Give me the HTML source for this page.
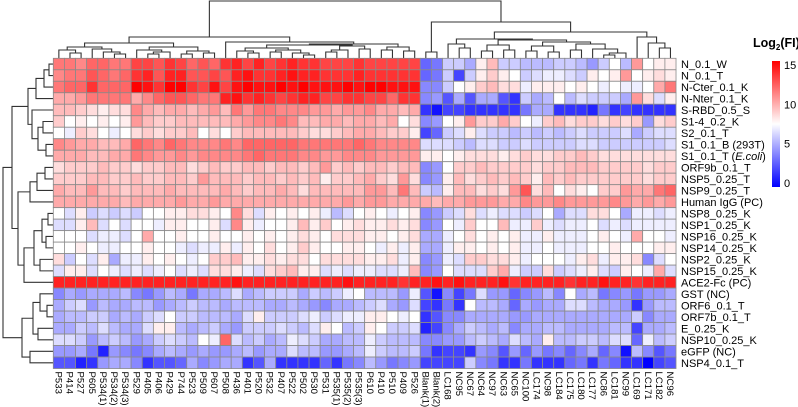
<!DOCTYPE html>
<html><head><meta charset="utf-8">
<style>
html,body{margin:0;padding:0;background:#fff;}
svg{display:block;font-family:"Liberation Sans",Arial,sans-serif;}
</style></head>
<body>
<svg id="chart" width="798" height="407" viewBox="0 0 798 407" xmlns="http://www.w3.org/2000/svg">
  <g id="dendro-col"></g>
  <g id="dendro-row"></g>
  <g id="cells"></g>
  <g id="rowlabels"></g>
  <g id="collabels"></g>
  <g id="legend">
    <defs>
      <linearGradient id="cbar" x1="0" y1="1" x2="0" y2="0">
        <stop offset="0" stop-color="#0000ff"/>
        <stop offset="0.5" stop-color="#ffffff"/>
        <stop offset="1" stop-color="#ff0000"/>
      </linearGradient>
    </defs>
    <text x="753" y="47" font-size="12.5" font-weight="bold">Log<tspan font-size="8" dy="3">2</tspan><tspan dy="-3">(FI)</tspan></text>
    <rect x="772" y="61" width="8" height="126" fill="url(#cbar)"/>
  </g>
</svg>
<script>
const columns = ["P533","P414","P527","P605","P534(1)","P534(2)","P534(3)","P529","P405","P406","P429","P744","P523","P509","P607","P508","P436","P401","P520","P532","P407","P522","P502","P530","P531","P535(1)","P535(2)","P535(3)","P610","P410","P510","P409","P526","Blank(1)","Blank(2)","LC168","NC95","NC67","NC64","NC97","NC63","NC65","NC100","LC174","NC98","LC184","LC175","LC180","LC177","NC86","LC181","NC99","LC169","LC171","LC182","NC96"];
const rowNames = ["N_0.1_W","N_0.1_T","N-Cter_0.1_K","N-Nter_0.1_K","S-RBD_0.5_S","S1-4_0.2_K","S2_0.1_T","S1_0.1_B (293T)","S1_0.1_T (E.coli)","ORF9b_0.1_T","NSP5_0.25_T","NSP9_0.25_T","Human IgG (PC)","NSP8_0.25_K","NSP1_0.25_K","NSP16_0.25_K","NSP14_0.25_K","NSP2_0.25_K","NSP15_0.25_K","ACE2-Fc (PC)","GST (NC)","ORF6_0.1_T","ORF7b_0.1_T","E_0.25_K","NSP10_0.25_K","eGFP (NC)","NSP4_0.1_T"];
const legendTicks = [0,5,10,15];

const valuesA = [
[11.5,11.5,11,12,12,11.5,11.5,13,13,12.5,13.5,13,12,12.5,12,13.5,14,13,14,13,13.5,14,13.5,13.5,13,13,13,13.5,13,13,13,13,13],
[11,11.5,11.5,12.5,12,11.5,12,13.5,14,12.5,14,14,12.5,12.5,13,12.5,14,14.5,13.5,13.5,14,14.5,14,14,13.5,13.5,13.5,14,13.5,13.5,13.5,13.5,13.5],
[11.5,12,12,13.5,12,12,12,15,14.5,13.5,15,15,13.5,13,14.5,13,14.5,15,14.5,14.5,15,14.5,15,14.5,14.5,14.5,15,14.5,15,15,14.5,14.5,14.5],
[10,10,10.5,11.5,11.5,11.5,11.5,10,11,12,12.5,12.5,12,11.5,11.5,14,14.5,13.5,14,13.5,13,13.5,14,14,13,13,13.5,13.5,13,13,12,13.5,13.5],
[9.5,9.5,9,8.5,8,8.5,8.5,11,10,9.5,10,10,9.5,10,10.5,9.5,11.5,10.5,11.5,11.5,11,11,11,10.5,10.5,10,10.5,10.5,11,10,10,9.5,10],
[9,7.5,8,7.5,8,7.5,8,10.5,9.5,9,9,9.5,9.5,9.5,9.5,9.5,10,10.5,11,11,11.5,11,9.5,9.5,10,10,9.5,10,10,9.5,10,7.5,8.5],
[7.5,7,9,8.5,7.5,7,7.5,8.5,9,8.5,9,9,9.5,7.5,8.5,7.5,9,9.5,9.5,9.5,9.5,9.5,9,8.5,8.5,9,9.5,10,10,9.5,9,9,8],
[11,10.5,10,10,9.5,9.5,10,12,11.5,11,12,11.5,11,11,11,11.5,11,12,12,12,12,12,11.5,11.5,11.5,11.5,11.5,12,11.5,11,11,11,11],
[10,10,10,9.5,9.5,10,10,11.5,11,10.5,10.5,11,10.5,11,11,11,11,11.5,12,11.5,11.5,11.5,11,11,10.5,10.5,11,11,11,10.5,10.5,10.5,10.5],
[8.5,9,9,9,9.5,9,9,8.5,9,9,9.5,9.5,8.5,9,9.5,9,9,9.5,9.5,9,9.5,9.5,9,9.5,10.5,9,9.5,9,9.5,9.5,9,9.5,9.5],
[9,9,9,9.5,9.5,9,9,9.5,9,9,9.5,9.5,9,10.5,9.5,9.5,9.5,9,9.5,9.5,9,9.5,9,9.5,8,9,9,9.5,10,9,8.5,10.5,8.5],
[10,9.5,9.5,10.5,9.5,9.5,9,9.5,9.5,9.5,10,9.5,9.5,9.5,9.5,10,9.5,9,9.5,9.5,10,9.5,8.5,9.5,9.5,9.5,9.5,9.5,10.5,10.5,9.5,11.5,9.5],
[10,10,10,10,10,10,9.5,10,10,10,10,10.5,10,10,10.5,10,10,10,10,10,10,10,10,10,10,10,10.5,10,10.5,10.5,10,10,10],
[7.5,6.5,8,6,6.5,6,6.5,6,7.5,7.5,8,8,8.5,8.5,8,7.5,11,8.5,6.5,8,7.5,8,7.5,8,7,5.5,6.5,7.5,8,7.5,7,7.5,8],
[6.5,6.5,8,9.5,6.5,7.5,6.5,7.5,7.5,7,8,8,7.5,7.5,8,6.5,11,8,7,7.5,7.5,8,9.5,8,9,7.5,8,8.5,8,8,8.5,8,8.5],
[7.5,7.5,7.5,6.5,7,7,6.5,7.5,10,7.5,7.5,8,7.5,7.5,8,7.5,7.5,8,7.5,8,7.5,8,8.5,8,7.5,8.5,8.5,8.5,8,8,7.5,8,8.5],
[7.5,7.5,8,7.5,7,7,7.5,7.5,8,7.5,7.5,7,6.5,7,7,8,7,8,7.5,8.5,7.5,8,9,8,7.5,7.5,8,8,7.5,7,8,7,8],
[8.5,6,7.5,6.5,8,5,7,7,8,7.5,8,7.5,7,7.5,9,9,9.5,8,8,8.5,8,8.5,8.5,7.5,8.5,8.5,8.5,8.5,8,8,8.5,7,8],
[6.5,8,8,6.5,7.5,7,6.5,7,6.5,7,7.5,6.5,7,6.5,8.5,8.5,8,7,6.5,8.5,9,9.5,8,8,6.5,7,6.5,7,7,6.5,6.5,7,9.5],
[14,14,14,14,14,14,14,14,14,14,14,14,14,14,14,14,14.5,14,14,14,14,14,14,14,14,14,14.5,14,14,14,14,13.5,14],
[4,5,4.5,5,5,5,5.5,4,3.5,4.5,5.5,5,3.5,5,5,5.5,6.5,5,5.5,6,6,6,5,6,5.5,6,7,7.5,5.5,5.5,5.5,4.5,7],
[5,6,6.5,4.5,5.5,5,5,5.5,5.5,4.5,5,5.5,6,5.5,5.5,5,5.5,5.5,5.5,5,5,5.5,5,4.5,4,5,5,5.5,6,6.5,5,4.5,6.5],
[5,5.5,5.5,6,6,5,5.5,5,6,6.5,7.5,6,6,5.5,5.5,5.5,5,6.5,8,6,6,6,6.5,7,6,6.5,7,7,8,8,7.5,7,7.5],
[5,5,6,5.5,6.5,5.5,5,5,6.5,8,8,5.5,5,5.5,6,5,4.5,6,6,6,6.5,6,5.5,6.5,8,7.5,5.5,6,8,7.5,6,6,6.5],
[6.5,6.5,6,4.5,5.5,6,5.5,4.5,5,6,6.5,6,5.5,7.5,7,12,6.5,5.5,6,5,5.5,7,6.5,6,5,5,5.5,5.5,7,6,5.5,5.5,5.5],
[4.5,4.5,5,3.5,1,4.5,4,3.5,4,5,5.5,5,4.5,5,4.5,4.5,5,5.5,4.5,5,5,6.5,5.5,5.5,4.5,4.5,5,5.5,7,6,5.5,5.5,6],
[2.5,2.5,1,1.5,4.5,5,5,4,1.5,2.5,2.5,3,5,4,4.5,5,5,1.5,2.5,5,1.5,1.5,1.5,1.5,3,1.5,3.5,4,5.5,4.5,3.5,4,4.5]
];
const valuesBlank = [
[3,3.5],[3,3.5],[4,4],[4,4.5],[1.5,0.5],[4,4.5],[2,3],[6.5,6.5],[8,8],[4,4.5],[4,4.5],[6,5.5],[10,9.5],[4,4.5],[4,4.5],[5,5],[5,5],[4,4.5],[4,4.5],[14,14.5],[2.5,0.5],[2,1.5],[1.5,2.5],[1,2],[4,4],[3.5,1.5],[2,2]
];
const valuesCtrl = [
[6,6,5,8,9.5,6,6,5.5,5.5,5.5,6,6,5.5,4.5,6,7.5,5.5,10.5,7.5,8,8],
[6,2,6,8,9,8,7.5,6,6.5,7,7,6.5,6,8,7.5,8,10.5,7.5,8,8.5,8],
[6,7.5,8,9,9.5,8.5,8.5,7,8,8,8,7.5,8,7.5,7,7.5,7,7,7.5,10,11.5],
[2.5,5,2.5,5,5,2.5,1.5,6,5,5.5,7.5,5.5,6.5,6,6,6,5,10.5,8.5,6.5,8],
[2,2,1.5,1.5,1.5,1.5,1.5,3.5,5,5,1.5,1.5,1.5,1,3.5,1.5,2,1.5,1.5,1.5,1.5],
[7.5,8,10.5,9,9,10,9,7.5,7,9,9.5,8.5,9,9,8.5,9,8.5,9,4.5,8.5,9],
[6,6.5,8,6.5,6,6,5.5,6,5.5,6,5.5,6,6.5,6,6,6,6.5,5,6,6.5,6.5],
[6.5,6,5.5,6.5,6.5,6,6,6.5,6,6,6,6,6.5,6.5,6,6,6,6,6,6,6.5],
[7.5,8,8.5,8.5,8.5,8,8.5,9,8.5,8.5,9,9,9.5,9,8.5,8.5,8.5,8.5,8.5,8.5,8.5],
[7.5,9,9,9.5,9,9,9,9,8.5,9,9,9.5,9.5,9.5,9,9,9,9,8.5,9,9],
[8,9.5,8.5,9,9.5,9,9.5,9,8,9.5,9,9.5,9,9,9,9,9,9,8.5,9,9],
[8,9.5,9.5,8.5,9,8.5,10.5,12.5,8.5,9.5,7.5,8.5,8,7.5,9,9,10.5,10,10,11.5,12],
[10,10,10.5,10.5,10.5,10,10,11,10.5,10.5,11,10.5,10.5,10.5,10.5,11,10.5,10,10.5,10,10.5],
[6,6.5,8.5,6.5,7,6.5,6.5,6,6.5,7.5,5,6.5,6.5,8.5,8.5,7.5,5,7,7,6.5,7],
[7.5,7,9,7.5,7.5,9.5,7,7,9,7,6.5,7,7,7.5,6.5,7,6.5,7,7,7,7],
[7,7.5,8.5,7.5,8,7.5,8,7,7,8,7,7,7,7.5,8,7.5,7,10,7.5,7.5,7],
[7,8,8,7.5,8,7.5,8,7,7,7.5,7,7,7,7.5,7.5,8,7.5,7.5,7.5,8,8],
[7,6.5,9,9,8.5,8.5,8,7,7.5,7.5,7.5,7,8,8.5,7,8,8,8.5,4,6.5,7.5],
[7.5,6.5,6.5,6.5,9,10,7,6,6,8.5,6,6.5,7,8,6.5,6,8,7.5,7,10,6.5],
[14,14.5,14,14,14,14.5,13.5,14,14,14,14,13.5,14,14,14.5,14,14,13.5,14,14,14],
[4,2,3.5,6.5,4.5,4.5,3,4,4.5,5.5,4,7.5,5,5.5,3.5,4,4.5,3.5,4.5,4.5,5],
[3.5,1.5,7.5,5.5,5.5,5,3,5,4.5,5,5,6.5,6.5,5.5,5,5,4.5,1.5,4.5,5.5,5.5],
[4,4,5,5,5,5,4.5,4.5,5,5,5,5,5,5,5,5,5,6,4,5,5],
[4,5,6,5.5,5,5.5,4,5,5,5.5,5.5,5,5,5,5,5.5,5.5,2,5,5,5.5],
[4.5,4.5,5.5,6,5.5,5,6.5,5.5,5,8,5.5,5.5,6,6,5.5,6.5,6.5,3,7,5.5,6],
[2,2,1.5,4.5,4,2.5,4.5,3,4.5,3.5,4,3,4,5,3,4,0.5,5.5,4,2.5,3.5],
[2,2,6,4,3.5,1.5,1.5,3.5,1.5,1.5,1.5,3,3.5,1.5,3.5,3,1.5,1.5,0,2,2.5]
];

const colTree = [1,
  [37,
    [43,
      [47,[50,0,[53,1,2]],[49,3,[52,4,[54,5,6]]]],
      [47,[50,7,[52,[54,8,9],10]],[51,[54,11,12],[53,13,14]]]],
    [42,15,[44,[45,[48,[51,16,[53,17,18]],[50,[52,19,20],[53,21,[55,22,23]]]],[46,[50,[52,24,25],26],[49,27,28]]],[47,[50,29,30],[51,31,32]]]]],
  [22,[52,33,34],
    [32,
      [39,[44,35,[48,36,37]],[40,[45,[51,38,39],[50,40,41]],[42,[46,[51,42,43],[52,44,45]],[44,[50,46,47],[49,48,[53,[55,49,50],51]]]]]],
      [37,52,[43,53,[48,54,55]]]]]];
const rowTree = [3,
  [12,
    [28,[36,[44,[49,0,1],2],3],[32,[38,[46,7,8],[43,5,6]],4]],
    [18,[30,[37,[45,9,10],11],12],[24,[34,[42,[48,13,14],[46,15,16]],[40,17,18]],19]]],
  [22,[33,[40,20,[47,21,22]],[38,23,24]],[30,25,26]]];

const NS = "http://www.w3.org/2000/svg";
const X0 = 53.3, Y0 = 58.3, CW = 11.12, RH = 11.49;
const xScale = c => X0 + c*CW;
const yScale = r => Y0 + r*RH;
function color(v){
  v = Math.max(0, Math.min(15, v));
  let r,g,b;
  if (v < 7.5){ const t = v/7.5; r = Math.round(255*t); g = r; b = 255; }
  else { const t = (v-7.5)/7.5; r = 255; g = Math.round(255*(1-t)); b = g; }
  return `rgb(${r},${g},${b})`;
}
function mk(tag, attrs, parent){
  const e = document.createElementNS(NS, tag);
  for (const k in attrs) e.setAttribute(k, attrs[k]);
  parent.appendChild(e);
  return e;
}

const cells = document.getElementById('cells');
for (let r = 0; r < rowNames.length; r++){
  const vals = valuesA[r].concat(valuesBlank[r], valuesCtrl[r]);
  for (let c = 0; c < columns.length; c++){
    const v = vals[c] === undefined ? 7.5 : vals[c];
    const rc = mk('rect', {x: xScale(c).toFixed(2), y: yScale(r).toFixed(2), width: CW.toFixed(2), height: RH.toFixed(2), fill: color(v), stroke: '#8a8a8a', 'stroke-width': 0.8}, cells);
    
    
  }
}

const rl = document.getElementById('rowlabels');
rowNames.forEach((n, r) => {
  const t = mk('text', {x: 681, y: (yScale(r)+RH/2+4).toFixed(2), 'font-size': 11}, rl);
  
  
  if (n.indexOf('E.coli') >= 0){
    t.appendChild(document.createTextNode('S1_0.1_T ('));
    const it = mk('tspan', {'font-style': 'italic'}, t);
    it.textContent = 'E.coli';
    t.appendChild(document.createTextNode(')'));
  } else t.textContent = n;
});

const cl = document.getElementById('collabels');
columns.forEach((n, c) => {
  const x = xScale(c) + CW/2 - 3.4;
  const t = mk('text', {x: 0, y: 0, 'font-size': 9.6, transform: `translate(${x.toFixed(2)},371.5) rotate(90)`}, cl);
  
  
  t.textContent = n;
});

function drawTree(node, g, leafPos, base, horizontal){
  if (typeof node === 'number') return [leafPos(node), base];
  const [h, L, R] = node;
  const a = drawTree(L, g, leafPos, base, horizontal);
  const b = drawTree(R, g, leafPos, base, horizontal);
  let d;
  if (!horizontal) d = `M${a[0]},${a[1]}V${h}H${b[0]}V${b[1]}`;
  else d = `M${a[1]},${a[0]}H${h}V${b[0]}H${b[1]}`;
  const p = mk('path', {d: d, fill: 'none', stroke: '#333', 'stroke-width': 1.1}, g);
  
  
  return [(a[0]+b[0])/2, h];
}
drawTree(colTree, document.getElementById('dendro-col'), c => xScale(c)+CW/2, Y0, false);
drawTree(rowTree, document.getElementById('dendro-row'), r => yScale(r)+RH/2, X0, true);

const lg = document.getElementById('legend');
const legY = v => 183 - v*7.87;
legendTicks.forEach(v => {
  const t = mk('text', {x: 784, y: (legY(v)+4).toFixed(1), 'font-size': 11}, lg);
  
  
  t.textContent = v;
});
</script>
</body></html>
